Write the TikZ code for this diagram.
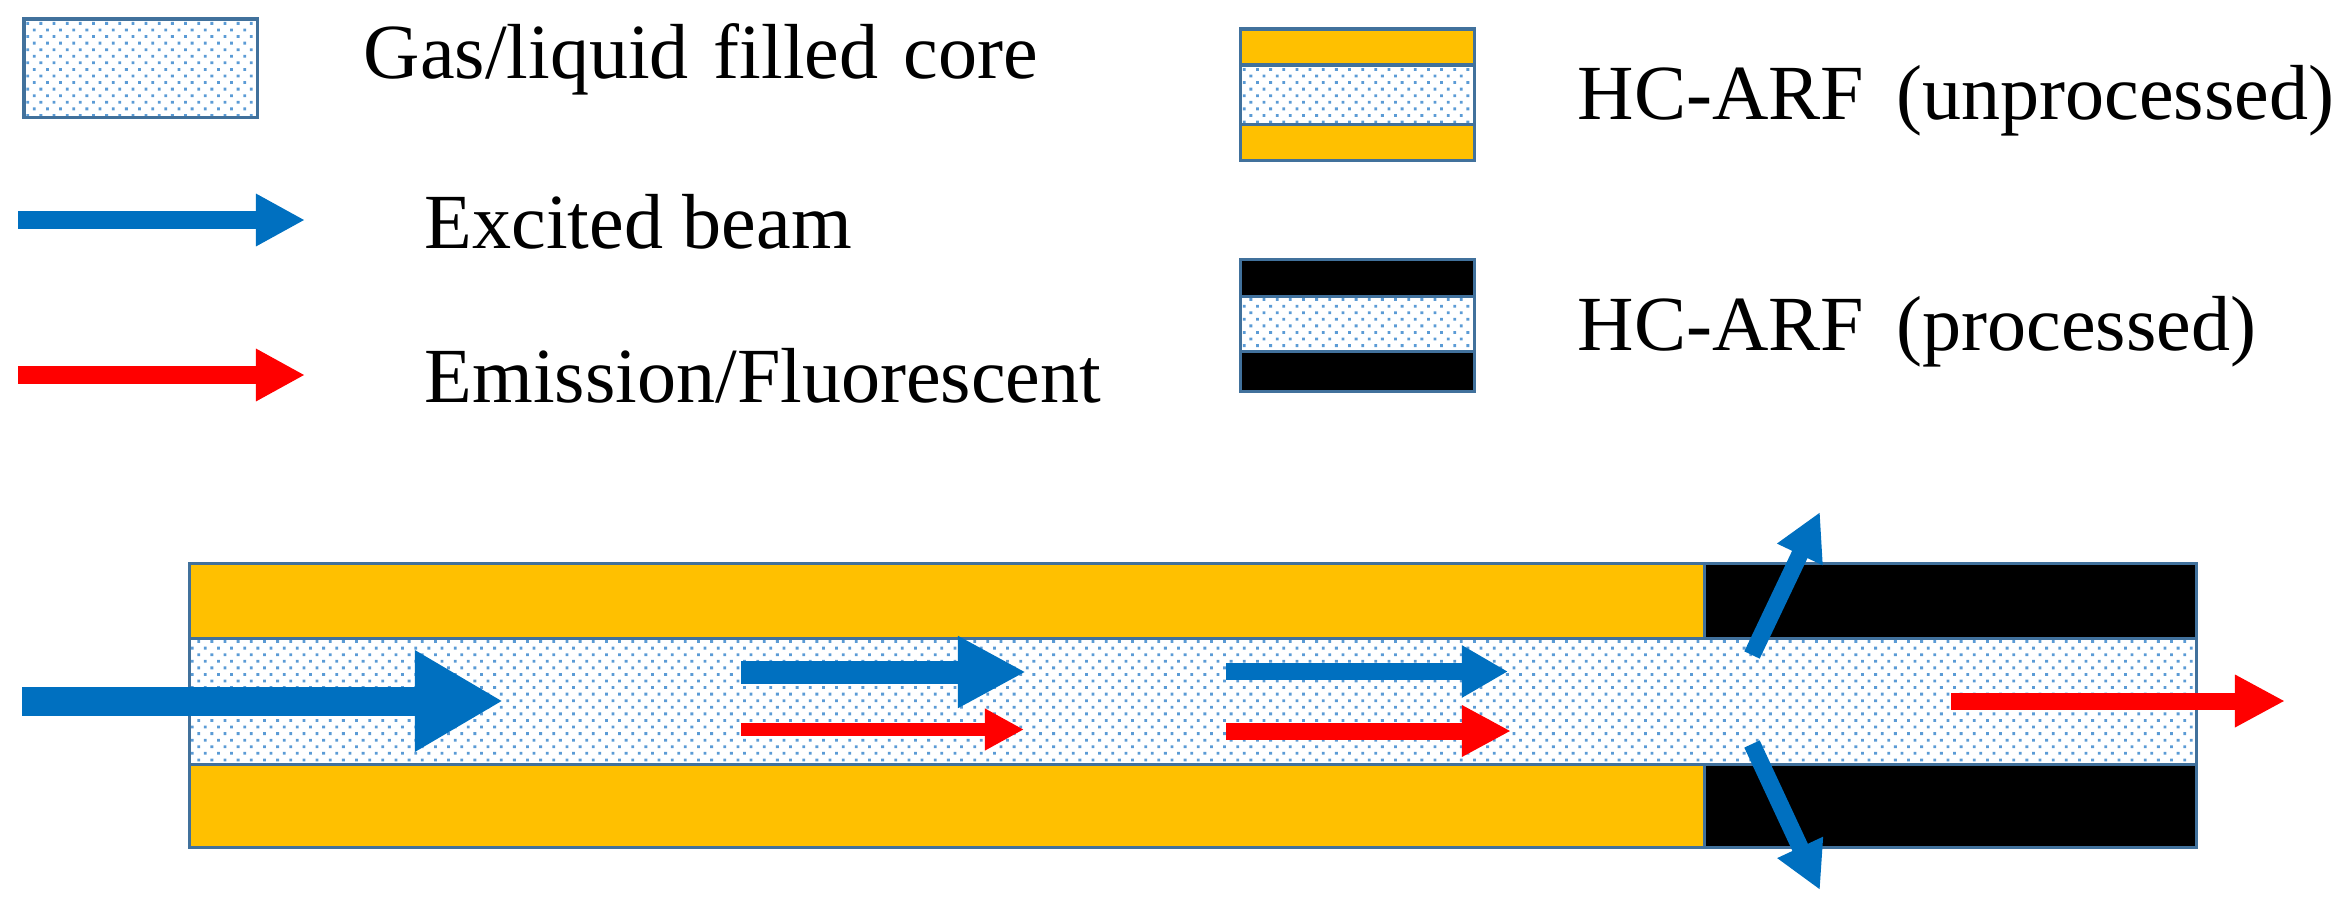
\documentclass[tikz,border=0pt]{standalone}
\usepackage{fontspec}
\setmainfont{Liberation Serif}
\usetikzlibrary{arrows.meta, patterns}

\pgfdeclarepatternformonly{coredots}{\pgfqpoint{-1pt}{-1pt}}{\pgfqpoint{2.74pt}{2.74pt}}{\pgfqpoint{3.74pt}{3.74pt}}{
	\pgfpathrectangle{\pgfqpoint{0pt}{0pt}}{\pgfqpoint{0.8pt}{0.8pt}}
	\pgfpathrectangle{\pgfqpoint{1.87pt}{1.87pt}}{\pgfqpoint{0.8pt}{0.8pt}}
	\pgfusepath{fill}
}
\definecolor{edgeblue}{HTML}{41719C}
\definecolor{dotblue}{HTML}{5B9BD5}
\definecolor{beamblue}{HTML}{0070C0}
\definecolor{claddingamber}{HTML}{FFC000}

\tikzset{
	core/.style={draw=edgeblue, line width=0.03cm, pattern=coredots, pattern color=dotblue},
	unprocessed/.style={draw=edgeblue, line width=0.03cm, fill=claddingamber},
	processed/.style={draw=edgeblue, line width=0.03cm, fill=black},
	label/.style={anchor=base west, inner sep=0pt, font=\fontsize{22.2}{26}\selectfont},
}
% head length, head width (in cm)
\newcommand{\beamtip}[2]{-{Triangle[length=#1cm,width=#2cm]}}

\begin{document}
\begin{tikzpicture}[x=0.01cm,y=-0.01cm]
	\useasboundingbox (0,0) rectangle (2342,906);
	% legend
	\draw[core] (24,19) rectangle (257,117.5);
	\draw[beamblue, line width=0.17cm, \beamtip{0.49}{0.49}] (18,220)--(305,220);
	\draw[red, line width=0.17cm, \beamtip{0.49}{0.49}] (18,375)--(305,375);
	\node[label] (corelabel) at (363,78) {Gas/liquid\hspace{1.5pt} filled\hspace{1.5pt} core};
	\node[label] (excitedlabel) at (424,248) {Excited beam};
	\node[label] (emissionlabel) at (424,402) {Emission/Fluorescent};
	% legend, fibres
	\draw[unprocessed] (1240,29) rectangle (1474,65);
	\draw[core] (1240,65) rectangle (1474,124.5);
	\draw[unprocessed] (1240,124.5) rectangle (1474,160.5);
	\draw[processed] (1240,259.5) rectangle (1474,296);
	\draw[core] (1240,296) rectangle (1474,351.5);
	\draw[processed] (1240,351.5) rectangle (1474,391.5);
	\node[label] (unprocessedlabel) at (1577,119) {HC-ARF\, (unprocessed)};
	\node[label] (processedlabel) at (1577,350) {HC-ARF\, (processed)};
	% fibre
	\draw[unprocessed] (189,563.5) rectangle (1704,638.5);
	\draw[unprocessed] (189,764) rectangle (1704,847);
	\draw[processed] (1704,563.5) rectangle (2196,638.5);
	\draw[processed] (1704,764) rectangle (2196,847);
	\draw[core] (189,638.5) rectangle (2196,764);
	% beams
	\draw[beamblue, line width=0.29cm, \beamtip{0.88}{0.95}] (22,701)--(503,701);
	\draw[beamblue, line width=0.23cm, \beamtip{0.68}{0.67}] (741,672)--(1026,672);
	\draw[red, line width=0.13cm, \beamtip{0.39}{0.39}] (741,729.5)--(1024,729.5);
	\draw[beamblue, line width=0.17cm, \beamtip{0.46}{0.49}] (1226,671.5)--(1508,671.5);
	\draw[red, line width=0.17cm, \beamtip{0.49}{0.48}] (1226,731)--(1511,731);
	\draw[red, line width=0.17cm, \beamtip{0.50}{0.49}] (1951,701)--(2285,701);
	\draw[beamblue, line width=0.17cm, \beamtip{0.47}{0.47}] (1752,655)--(1820,512);
	\draw[beamblue, line width=0.17cm, \beamtip{0.47}{0.47}] (1752,744)--(1820,890);
\end{tikzpicture}
\end{document}
